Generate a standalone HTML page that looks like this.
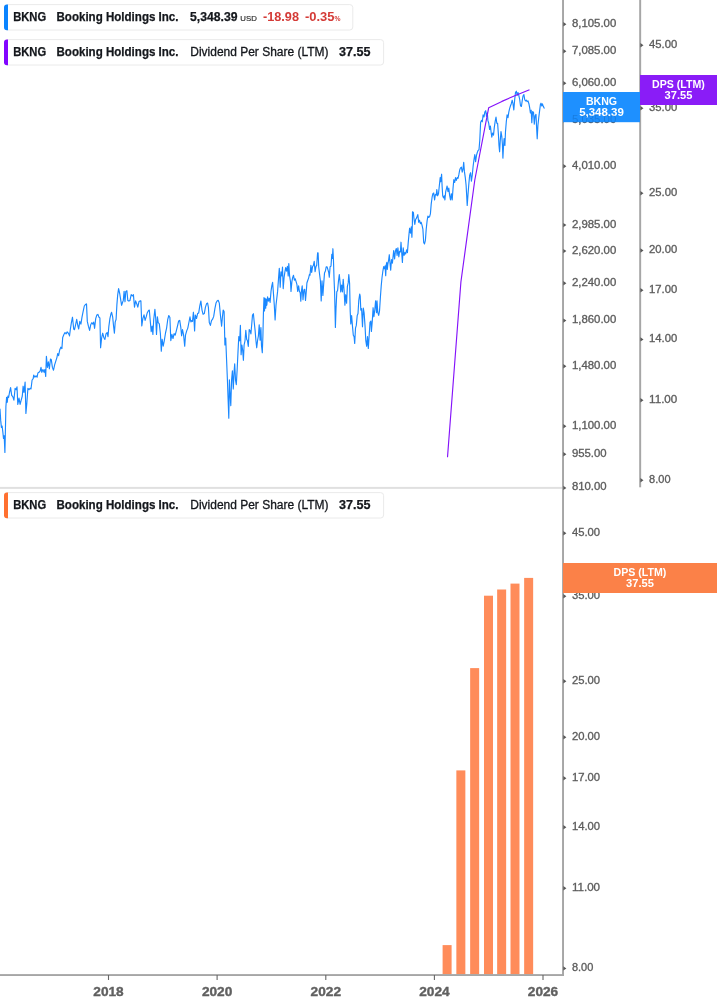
<!DOCTYPE html><html><head><meta charset="utf-8"><title>BKNG chart</title>
<style>html,body{margin:0;padding:0;background:#fff}body{width:717px;height:1005px;overflow:hidden;font-family:"Liberation Sans",sans-serif}svg{display:block}text{font-family:"Liberation Sans",sans-serif}</style></head><body>
<svg width="717" height="1005" viewBox="0 0 717 1005">
<rect width="717" height="1005" fill="#fff"/>
<rect x="0" y="486.9" width="563" height="2" fill="#e0e0e0"/>
<rect x="442.60" y="945.1" width="9" height="29.4" fill="#ff8c5a"/>
<rect x="456.35" y="770.4" width="9" height="204.1" fill="#ff8c5a"/>
<rect x="470.15" y="668.1" width="9" height="306.4" fill="#ff8c5a"/>
<rect x="484.00" y="595.7" width="9" height="378.8" fill="#ff8c5a"/>
<rect x="497.15" y="589.5" width="9" height="385.0" fill="#ff8c5a"/>
<rect x="510.50" y="583.6" width="9" height="390.9" fill="#ff8c5a"/>
<rect x="524.15" y="577.9" width="9" height="396.6" fill="#ff8c5a"/>
<path d="M0.0,409.2 L0.7,420.4 L1.4,427.4 L2.1,426.0 L2.8,431.6 L3.5,438.5 L4.2,435.7 L4.9,452.5 L5.3,435.7 L5.9,406.5 L6.6,397.4 L7.3,402.3 L7.9,396.0 L8.6,397.4 L9.5,392.5 L10.6,387.6 L11.7,395.3 L12.8,396.7 L13.9,400.2 L15.1,388.3 L16.2,389.7 L17.0,386.9 L17.8,404.4 L19.0,398.1 L20.1,404.4 L21.2,400.2 L22.3,396.0 L23.1,386.2 L24.0,392.5 L25.1,382.1 L25.9,413.4 L26.8,403.7 L27.9,388.3 L29.0,389.7 L30.1,388.3 L31.0,389.0 L32.1,380.0 L33.2,378.6 L33.7,375.1 L34.9,377.2 L36.0,375.8 L37.1,377.2 L37.9,373.0 L39.0,372.3 L40.2,370.9 L41.0,367.4 L41.8,372.3 L42.9,369.5 L44.1,372.3 L44.9,369.5 L45.7,376.5 L46.4,356.3 L47.4,367.4 L48.4,361.8 L49.4,368.8 L50.5,359.0 L51.3,359.7 L52.4,367.4 L53.5,370.2 L54.7,364.6 L55.8,361.1 L56.9,357.6 L57.7,353.5 L58.6,355.6 L59.7,350.0 L60.8,347.2 L61.9,348.6 L62.7,337.4 L63.9,334.6 L65.0,332.5 L66.1,333.9 L67.2,331.9 L68.3,333.2 L69.4,335.3 L69.5,336.0 L70.3,329.7 L71.4,322.7 L72.5,317.2 L73.7,329.0 L74.5,329.7 L75.6,324.8 L76.7,319.3 L77.8,325.5 L78.7,329.0 L79.8,321.4 L80.9,324.1 L82.0,317.2 L83.1,311.6 L84.3,306.0 L85.4,304.6 L86.5,303.9 L87.3,321.4 L88.4,326.2 L89.6,330.4 L90.7,324.8 L91.8,322.7 L92.9,324.1 L93.7,322.1 L94.6,328.3 L95.7,318.6 L96.8,315.1 L97.9,314.4 L99.0,317.2 L99.9,317.9 L100.6,347.8 L101.6,338.1 L102.7,333.2 L103.8,337.4 L104.9,339.5 L106.0,333.9 L107.1,332.5 L108.0,336.7 L108.8,326.9 L109.9,318.6 L111.0,313.7 L111.6,312.3 L112.7,317.2 L113.5,325.5 L114.4,333.2 L115.2,322.1 L116.1,319.3 L116.9,304.6 L117.7,294.9 L118.6,288.6 L119.7,293.5 L120.8,300.4 L121.6,305.3 L122.5,302.5 L123.3,300.4 L124.1,291.4 L125.0,301.8 L125.8,291.4 L126.9,290.7 L127.8,300.4 L128.9,301.1 L130.0,300.4 L130.0,300.2 L131.2,294.6 L132.3,296.0 L133.4,294.6 L134.5,307.2 L135.6,300.9 L136.7,303.7 L137.8,307.2 L139.0,301.6 L140.1,300.9 L140.9,300.9 L141.8,326.0 L142.9,318.3 L144.0,314.8 L145.1,320.4 L146.2,316.9 L147.3,312.7 L148.4,310.7 L149.3,310.0 L150.4,322.5 L151.2,331.6 L152.1,326.0 L152.9,334.4 L153.7,319.7 L154.9,309.3 L155.7,318.3 L156.5,334.4 L157.4,316.9 L158.2,322.5 L159.3,323.9 L160.4,333.7 L161.3,351.1 L162.1,339.2 L163.2,346.2 L164.3,340.6 L165.5,333.0 L166.6,328.1 L167.7,319.7 L168.8,315.5 L169.9,317.6 L170.8,340.6 L171.9,334.4 L173.0,338.5 L174.1,333.7 L175.2,335.1 L176.3,330.9 L177.5,326.0 L178.6,321.1 L179.7,320.4 L180.8,327.4 L181.6,335.8 L182.5,329.5 L183.6,335.1 L184.7,346.2 L185.5,335.1 L186.7,330.9 L187.8,328.1 L188.9,322.5 L190.0,316.9 L190.0,317.1 L190.9,322.0 L191.7,320.6 L192.5,321.3 L193.4,312.2 L193.9,318.5 L194.6,331.0 L195.3,315.0 L196.5,318.5 L197.6,313.6 L198.7,312.9 L199.8,305.9 L200.9,301.0 L202.0,310.1 L203.1,314.3 L204.3,313.6 L205.4,307.3 L206.5,303.8 L207.6,303.1 L208.4,307.3 L209.3,322.6 L210.4,325.4 L211.5,320.6 L212.6,319.2 L213.7,316.4 L214.9,308.7 L216.0,303.1 L217.1,301.0 L218.2,300.3 L219.3,303.1 L220.4,315.0 L221.6,326.1 L222.4,317.1 L223.2,310.1 L224.1,311.5 L224.9,345.0 L225.7,338.0 L226.6,360.3 L227.4,379.8 L228.0,396.6 L228.8,418.2 L229.4,379.8 L229.9,391.0 L230.8,405.6 L231.6,379.8 L232.4,370.8 L233.3,388.9 L234.1,371.5 L234.7,363.8 L235.5,379.8 L236.3,384.7 L237.2,368.7 L238.0,351.9 L238.8,336.6 L239.7,340.8 L240.4,325.4 L241.1,354.7 L241.9,345.0 L242.7,350.5 L243.4,360.3 L244.1,345.0 L245.0,340.8 L245.8,330.3 L246.7,339.4 L247.5,340.8 L248.3,346.4 L249.2,329.6 L250.0,331.0 L250.0,330.4 L250.9,333.9 L251.7,324.8 L252.5,315.1 L253.4,313.7 L254.2,322.0 L255.1,330.4 L255.9,340.2 L256.7,347.8 L257.6,340.2 L258.4,336.0 L259.2,324.8 L260.1,340.2 L260.9,327.6 L261.5,345.7 L262.3,352.7 L262.9,336.0 L263.4,313.7 L264.0,297.6 L264.5,310.9 L265.1,298.3 L265.7,308.1 L266.2,299.0 L266.8,305.3 L267.6,296.9 L268.4,301.1 L269.3,298.3 L270.1,302.5 L271.0,291.4 L271.8,285.8 L272.6,282.3 L273.5,294.1 L274.3,305.3 L275.1,319.9 L276.0,305.3 L276.8,298.3 L277.6,291.4 L278.5,278.8 L279.3,268.3 L280.2,287.2 L281.0,271.8 L281.8,276.0 L282.5,267.0 L283.2,288.6 L284.1,277.4 L284.9,271.8 L285.7,267.6 L286.6,271.1 L287.4,266.3 L288.2,276.0 L288.8,263.5 L289.6,276.0 L290.5,281.6 L291.0,291.4 L291.9,281.6 L292.7,277.4 L293.5,275.3 L294.4,280.2 L295.2,278.8 L296.1,281.6 L296.9,284.4 L297.7,291.4 L298.6,285.8 L299.4,291.4 L300.2,292.7 L300.8,301.1 L301.4,291.4 L302.2,285.8 L303.0,299.7 L303.9,290.0 L304.7,289.3 L305.5,300.4 L306.4,290.0 L306.9,283.0 L307.8,280.2 L308.6,278.1 L309.4,274.6 L310.0,273.9 L310.0,275.2 L310.9,265.4 L311.7,272.4 L312.5,266.8 L313.4,265.4 L314.2,261.3 L315.1,271.7 L315.9,266.8 L316.7,265.4 L317.6,252.9 L318.1,252.9 L318.7,266.8 L319.5,273.8 L320.4,280.8 L321.2,301.0 L322.0,280.8 L322.9,295.4 L323.7,283.6 L324.5,273.1 L325.4,271.0 L326.2,266.8 L327.1,266.8 L327.9,269.6 L328.7,272.4 L329.3,277.3 L330.1,266.8 L331.0,266.1 L331.8,254.3 L332.4,258.5 L332.9,248.7 L333.5,261.3 L334.0,278.0 L334.6,291.9 L335.4,327.5 L336.0,308.7 L336.8,291.9 L337.6,290.5 L338.5,280.8 L339.3,274.5 L340.2,283.6 L340.7,291.9 L341.6,285.0 L342.4,291.9 L343.2,279.4 L344.1,290.5 L344.9,305.2 L345.7,294.7 L346.6,303.1 L347.4,286.4 L348.2,282.9 L348.8,274.5 L349.6,283.6 L350.2,311.5 L350.8,324.0 L351.6,315.6 L352.4,325.4 L353.3,335.2 L354.1,336.6 L354.7,343.5 L355.5,328.2 L356.3,325.4 L357.2,315.6 L358.0,313.5 L358.8,300.3 L359.7,294.0 L360.2,296.1 L360.8,310.1 L361.6,308.7 L362.5,326.8 L363.3,308.0 L364.1,312.8 L365.0,325.4 L365.8,340.7 L366.7,346.3 L367.5,336.6 L368.3,348.4 L369.2,335.2 L370.0,322.6 L370.0,322.4 L370.9,321.0 L371.4,331.4 L372.3,321.0 L373.1,307.7 L373.9,316.8 L374.8,309.8 L375.6,300.8 L376.5,312.6 L377.0,300.8 L377.8,312.6 L378.7,315.4 L379.5,311.2 L380.4,297.3 L381.2,286.1 L382.0,277.7 L382.9,270.8 L383.7,266.6 L384.5,268.7 L385.1,265.9 L385.7,275.7 L386.2,265.2 L386.8,262.4 L387.3,269.4 L387.9,263.8 L388.7,259.6 L389.3,254.7 L389.8,261.0 L390.7,270.1 L391.5,259.6 L392.4,263.1 L393.2,255.4 L393.7,250.6 L394.6,258.9 L395.4,251.3 L396.3,248.5 L397.1,255.4 L397.9,247.8 L398.8,256.8 L399.6,251.3 L400.4,252.0 L401.0,242.2 L401.6,251.3 L402.4,262.4 L403.2,247.8 L404.1,255.4 L404.9,252.6 L405.7,254.0 L406.6,249.9 L407.4,252.6 L408.2,242.9 L409.1,233.1 L409.6,228.2 L410.5,233.1 L411.3,226.9 L411.9,237.3 L412.4,223.4 L412.5,211.8 L413.4,212.5 L413.9,218.1 L414.8,224.4 L415.6,219.5 L416.5,218.1 L417.3,216.0 L417.8,214.6 L418.7,222.3 L419.5,220.2 L420.4,223.7 L421.2,222.3 L422.0,225.1 L422.9,229.2 L423.7,242.5 L424.5,243.9 L425.4,240.4 L426.2,229.2 L427.1,220.9 L427.9,216.0 L428.7,217.4 L429.6,216.7 L430.4,213.9 L431.2,204.1 L432.1,197.2 L432.9,193.7 L433.7,193.0 L434.6,200.0 L435.4,194.4 L436.3,195.1 L436.8,189.5 L437.6,195.8 L438.5,193.7 L439.3,186.0 L440.2,177.6 L440.7,181.8 L441.6,174.2 L442.1,186.0 L442.7,195.8 L443.5,197.9 L444.3,195.8 L444.9,200.0 L445.7,191.6 L446.6,188.1 L447.1,186.0 L448.0,191.6 L448.8,188.1 L449.6,195.1 L450.5,200.0 L451.3,193.7 L452.2,200.0 L453.0,188.8 L453.8,179.7 L454.7,182.5 L455.5,177.6 L456.3,180.4 L457.2,177.6 L458.0,178.3 L458.8,174.9 L459.7,170.0 L460.5,167.9 L461.4,167.2 L462.2,172.1 L463.0,169.3 L463.7,162.3 L464.4,171.4 L465.3,177.6 L466.1,185.3 L466.7,195.8 L467.2,205.5 L468.0,194.4 L468.9,183.2 L469.7,174.9 L469.8,174.8 L470.6,172.7 L471.4,181.1 L472.3,174.8 L473.1,166.5 L473.9,160.2 L474.8,154.6 L475.6,161.6 L476.5,155.3 L477.3,152.5 L478.1,150.4 L479.0,149.7 L479.8,140.0 L480.6,122.5 L481.5,120.4 L482.3,121.8 L483.1,114.9 L484.0,117.0 L484.8,112.1 L485.7,110.7 L486.5,116.3 L487.3,112.8 L487.9,120.4 L488.7,123.2 L489.6,129.5 L490.4,126.0 L491.2,133.0 L491.8,137.2 L492.6,133.0 L493.5,135.1 L494.3,127.4 L495.1,121.8 L496.0,117.0 L496.8,123.2 L497.6,123.2 L498.5,135.8 L499.0,145.5 L499.6,151.8 L500.2,141.4 L501.0,131.6 L501.8,136.5 L502.4,144.1 L502.9,158.1 L503.5,146.9 L504.1,138.6 L504.9,145.5 L505.5,131.6 L506.3,121.8 L507.1,114.9 L508.0,117.6 L508.8,112.1 L509.6,108.6 L510.5,105.8 L511.3,103.7 L512.2,100.2 L513.0,103.7 L513.8,110.0 L514.7,99.5 L515.5,92.5 L516.3,91.2 L517.2,95.3 L518.0,92.5 L518.8,95.3 L519.7,99.5 L520.5,105.8 L521.4,106.5 L522.2,100.9 L523.0,96.0 L523.9,94.6 L524.7,99.5 L525.5,100.9 L526.4,100.2 L527.2,101.6 L528.0,100.9 L528.9,103.7 L529.7,107.9 L530.4,113.0 L531.2,110.2 L531.8,122.7 L532.6,111.6 L533.5,112.3 L534.3,124.1 L535.1,115.8 L536.0,114.4 L536.5,125.5 L537.2,138.8 L537.9,125.5 L538.8,117.2 L539.6,110.9 L540.4,104.6 L541.0,103.2 L541.8,106.0 L542.4,103.9 L543.2,106.0 L544.1,108.1" fill="none" stroke="#1a88ff" stroke-width="1.15" stroke-linejoin="round" stroke-linecap="round"/>
<path d="M447.5,457.2 L460.9,282.0 L474.8,180.0 L488.7,107.7 L501.9,101.4 L515.4,95.5 L529.5,89.8" fill="none" stroke="#8412fa" stroke-width="1.15" stroke-linejoin="round"/>
<rect x="562.05" y="0" width="1.95" height="976" fill="#a6a6a6"/>
<rect x="639.2" y="0" width="1.95" height="487.3" fill="#a6a6a6"/>
<rect x="0" y="974.1" width="563.9" height="1.9" fill="#a6a6a6"/>
<rect x="107.95" y="975" width="1.1" height="5" fill="#666"/>
<rect x="216.55" y="975" width="1.1" height="5" fill="#666"/>
<rect x="325.25" y="975" width="1.1" height="5" fill="#666"/>
<rect x="433.85" y="975" width="1.1" height="5" fill="#666"/>
<rect x="542.45" y="975" width="1.1" height="5" fill="#666"/>
<text x="108.5" y="996.3" font-size="12.3" font-weight="700" fill="#606060" stroke="#606060" stroke-width="0.35" text-anchor="middle" textLength="30.4" lengthAdjust="spacingAndGlyphs">2018</text>
<text x="217.1" y="996.3" font-size="12.3" font-weight="700" fill="#606060" stroke="#606060" stroke-width="0.35" text-anchor="middle" textLength="30.4" lengthAdjust="spacingAndGlyphs">2020</text>
<text x="325.8" y="996.3" font-size="12.3" font-weight="700" fill="#606060" stroke="#606060" stroke-width="0.35" text-anchor="middle" textLength="30.4" lengthAdjust="spacingAndGlyphs">2022</text>
<text x="434.4" y="996.3" font-size="12.3" font-weight="700" fill="#606060" stroke="#606060" stroke-width="0.35" text-anchor="middle" textLength="30.4" lengthAdjust="spacingAndGlyphs">2024</text>
<text x="543.0" y="996.3" font-size="12.3" font-weight="700" fill="#606060" stroke="#606060" stroke-width="0.35" text-anchor="middle" textLength="30.4" lengthAdjust="spacingAndGlyphs">2026</text>
<path d="M563.3,22.1 L566.4,24.3 L563.3,26.5Z" fill="#585858"/>
<text x="571.9" y="26.8" font-size="10.2" fill="#5c5c5c" stroke="#5c5c5c" stroke-width="0.3" textLength="44.4" lengthAdjust="spacingAndGlyphs">8,105.00</text>
<path d="M563.3,49.0 L566.4,51.2 L563.3,53.400000000000006Z" fill="#585858"/>
<text x="571.9" y="53.6" font-size="10.2" fill="#5c5c5c" stroke="#5c5c5c" stroke-width="0.3" textLength="44.4" lengthAdjust="spacingAndGlyphs">7,085.00</text>
<path d="M563.3,81.0 L566.4,83.2 L563.3,85.4Z" fill="#585858"/>
<text x="571.9" y="85.7" font-size="10.2" fill="#5c5c5c" stroke="#5c5c5c" stroke-width="0.3" textLength="44.4" lengthAdjust="spacingAndGlyphs">6,060.00</text>
<path d="M563.3,118.0 L566.4,120.2 L563.3,122.4Z" fill="#585858"/>
<text x="571.9" y="122.7" font-size="10.2" fill="#5c5c5c" stroke="#5c5c5c" stroke-width="0.3" textLength="44.4" lengthAdjust="spacingAndGlyphs">5,035.00</text>
<path d="M563.3,164.0 L566.4,166.2 L563.3,168.39999999999998Z" fill="#585858"/>
<text x="571.9" y="168.7" font-size="10.2" fill="#5c5c5c" stroke="#5c5c5c" stroke-width="0.3" textLength="44.4" lengthAdjust="spacingAndGlyphs">4,010.00</text>
<path d="M563.3,222.9 L566.4,225.1 L563.3,227.29999999999998Z" fill="#585858"/>
<text x="571.9" y="227.6" font-size="10.2" fill="#5c5c5c" stroke="#5c5c5c" stroke-width="0.3" textLength="44.4" lengthAdjust="spacingAndGlyphs">2,985.00</text>
<path d="M563.3,248.9 L566.4,251.1 L563.3,253.29999999999998Z" fill="#585858"/>
<text x="571.9" y="253.6" font-size="10.2" fill="#5c5c5c" stroke="#5c5c5c" stroke-width="0.3" textLength="44.4" lengthAdjust="spacingAndGlyphs">2,620.00</text>
<path d="M563.3,281.1 L566.4,283.3 L563.3,285.5Z" fill="#585858"/>
<text x="571.9" y="285.8" font-size="10.2" fill="#5c5c5c" stroke="#5c5c5c" stroke-width="0.3" textLength="44.4" lengthAdjust="spacingAndGlyphs">2,240.00</text>
<path d="M563.3,318.4 L566.4,320.59999999999997 L563.3,322.79999999999995Z" fill="#585858"/>
<text x="571.9" y="323.0" font-size="10.2" fill="#5c5c5c" stroke="#5c5c5c" stroke-width="0.3" textLength="44.4" lengthAdjust="spacingAndGlyphs">1,860.00</text>
<path d="M563.3,364.1 L566.4,366.3 L563.3,368.5Z" fill="#585858"/>
<text x="571.9" y="368.8" font-size="10.2" fill="#5c5c5c" stroke="#5c5c5c" stroke-width="0.3" textLength="44.4" lengthAdjust="spacingAndGlyphs">1,480.00</text>
<path d="M563.3,424.1 L566.4,426.3 L563.3,428.5Z" fill="#585858"/>
<text x="571.9" y="428.8" font-size="10.2" fill="#5c5c5c" stroke="#5c5c5c" stroke-width="0.3" textLength="44.4" lengthAdjust="spacingAndGlyphs">1,100.00</text>
<path d="M563.3,452.1 L566.4,454.3 L563.3,456.5Z" fill="#585858"/>
<text x="571.9" y="456.8" font-size="10.2" fill="#5c5c5c" stroke="#5c5c5c" stroke-width="0.3" textLength="34.8" lengthAdjust="spacingAndGlyphs">955.00</text>
<path d="M563.3,485.7 L566.4,487.9 L563.3,490.09999999999997Z" fill="#585858"/>
<text x="571.9" y="489.6" font-size="10.2" fill="#5c5c5c" stroke="#5c5c5c" stroke-width="0.3" textLength="34.8" lengthAdjust="spacingAndGlyphs">810.00</text>
<path d="M640.4,43.0 L643.5,45.2 L640.4,47.400000000000006Z" fill="#585858"/>
<text x="649.1" y="47.6" font-size="10.2" fill="#5c5c5c" stroke="#5c5c5c" stroke-width="0.3" textLength="28.2" lengthAdjust="spacingAndGlyphs">45.00</text>
<path d="M640.4,106.0 L643.5,108.2 L640.4,110.4Z" fill="#585858"/>
<text x="649.1" y="110.7" font-size="10.2" fill="#5c5c5c" stroke="#5c5c5c" stroke-width="0.3" textLength="28.2" lengthAdjust="spacingAndGlyphs">35.00</text>
<path d="M640.4,191.0 L643.5,193.2 L640.4,195.39999999999998Z" fill="#585858"/>
<text x="649.1" y="195.7" font-size="10.2" fill="#5c5c5c" stroke="#5c5c5c" stroke-width="0.3" textLength="28.2" lengthAdjust="spacingAndGlyphs">25.00</text>
<path d="M640.4,248.3 L643.5,250.5 L640.4,252.7Z" fill="#585858"/>
<text x="649.1" y="253.0" font-size="10.2" fill="#5c5c5c" stroke="#5c5c5c" stroke-width="0.3" textLength="28.2" lengthAdjust="spacingAndGlyphs">20.00</text>
<path d="M640.4,288.0 L643.5,290.2 L640.4,292.4Z" fill="#585858"/>
<text x="649.1" y="292.6" font-size="10.2" fill="#5c5c5c" stroke="#5c5c5c" stroke-width="0.3" textLength="28.2" lengthAdjust="spacingAndGlyphs">17.00</text>
<path d="M640.4,337.2 L643.5,339.4 L640.4,341.59999999999997Z" fill="#585858"/>
<text x="649.1" y="341.8" font-size="10.2" fill="#5c5c5c" stroke="#5c5c5c" stroke-width="0.3" textLength="28.2" lengthAdjust="spacingAndGlyphs">14.00</text>
<path d="M640.4,398.1 L643.5,400.3 L640.4,402.5Z" fill="#585858"/>
<text x="649.1" y="402.8" font-size="10.2" fill="#5c5c5c" stroke="#5c5c5c" stroke-width="0.3" textLength="28.2" lengthAdjust="spacingAndGlyphs">11.00</text>
<path d="M640.4,478.1 L643.5,480.3 L640.4,482.5Z" fill="#585858"/>
<text x="649.1" y="482.8" font-size="10.2" fill="#5c5c5c" stroke="#5c5c5c" stroke-width="0.3" textLength="21.4" lengthAdjust="spacingAndGlyphs">8.00</text>
<path d="M563.3,531.0 L566.4,533.2 L563.3,535.4000000000001Z" fill="#585858"/>
<text x="571.9" y="535.6" font-size="10.2" fill="#5c5c5c" stroke="#5c5c5c" stroke-width="0.3" textLength="28.2" lengthAdjust="spacingAndGlyphs">45.00</text>
<path d="M563.3,594.0 L566.4,596.2 L563.3,598.4000000000001Z" fill="#585858"/>
<text x="571.9" y="598.6" font-size="10.2" fill="#5c5c5c" stroke="#5c5c5c" stroke-width="0.3" textLength="28.2" lengthAdjust="spacingAndGlyphs">35.00</text>
<path d="M563.3,679.0 L566.4,681.2 L563.3,683.4000000000001Z" fill="#585858"/>
<text x="571.9" y="683.6" font-size="10.2" fill="#5c5c5c" stroke="#5c5c5c" stroke-width="0.3" textLength="28.2" lengthAdjust="spacingAndGlyphs">25.00</text>
<path d="M563.3,735.0 L566.4,737.2 L563.3,739.4000000000001Z" fill="#585858"/>
<text x="571.9" y="739.6" font-size="10.2" fill="#5c5c5c" stroke="#5c5c5c" stroke-width="0.3" textLength="28.2" lengthAdjust="spacingAndGlyphs">20.00</text>
<path d="M563.3,776.0 L566.4,778.2 L563.3,780.4000000000001Z" fill="#585858"/>
<text x="571.9" y="780.6" font-size="10.2" fill="#5c5c5c" stroke="#5c5c5c" stroke-width="0.3" textLength="28.2" lengthAdjust="spacingAndGlyphs">17.00</text>
<path d="M563.3,825.0 L566.4,827.2 L563.3,829.4000000000001Z" fill="#585858"/>
<text x="571.9" y="829.6" font-size="10.2" fill="#5c5c5c" stroke="#5c5c5c" stroke-width="0.3" textLength="28.2" lengthAdjust="spacingAndGlyphs">14.00</text>
<path d="M563.3,886.0 L566.4,888.2 L563.3,890.4000000000001Z" fill="#585858"/>
<text x="571.9" y="890.6" font-size="10.2" fill="#5c5c5c" stroke="#5c5c5c" stroke-width="0.3" textLength="28.2" lengthAdjust="spacingAndGlyphs">11.00</text>
<path d="M563.3,966.2 L566.4,968.4000000000001 L563.3,970.6000000000001Z" fill="#585858"/>
<text x="571.9" y="970.9" font-size="10.2" fill="#5c5c5c" stroke="#5c5c5c" stroke-width="0.3" textLength="21.4" lengthAdjust="spacingAndGlyphs">8.00</text>
<rect x="563" y="92" width="77" height="30.2" fill="#1e90ff"/>
<text x="601.5" y="105" font-size="10.6" font-weight="700" fill="#fff" text-anchor="middle">BKNG</text>
<text x="601.5" y="116.3" font-size="10.6" font-weight="700" fill="#fff" text-anchor="middle" textLength="44.7" lengthAdjust="spacingAndGlyphs">5,348.39</text>
<text x="571.9" y="122.65" font-size="10.2" fill="#0d4f96" opacity="0.3" textLength="44.4" lengthAdjust="spacingAndGlyphs">5,035.00</text>
<rect x="640" y="75" width="77" height="30" fill="#8a1cf7"/>
<text x="678.5" y="88" font-size="10.6" font-weight="700" fill="#fff" text-anchor="middle">DPS (LTM)</text>
<text x="678.5" y="99.3" font-size="10.6" font-weight="700" fill="#fff" text-anchor="middle" textLength="27.8" lengthAdjust="spacingAndGlyphs">37.55</text>
<rect x="563" y="563" width="154" height="30" fill="#fb8148"/>
<text x="640" y="576" font-size="10.6" font-weight="700" fill="#fff" text-anchor="middle">DPS (LTM)</text>
<text x="640" y="587.3" font-size="10.6" font-weight="700" fill="#fff" text-anchor="middle" textLength="27.8" lengthAdjust="spacingAndGlyphs">37.55</text>
<rect x="4.5" y="4.6" width="348.3" height="25.4" rx="3" fill="#fff" stroke="#eaeaea" stroke-width="1"/>
<path d="M8,4.5 h-1 a3,3 0 0 0 -3,3 v19.8 a3,3 0 0 0 3,3 h1 Z" fill="#0a84ff"/>
<text x="13.2" y="21" font-size="12" font-weight="700" fill="#14171c" stroke="#14171c" stroke-width="0.25" textLength="33.0" lengthAdjust="spacingAndGlyphs">BKNG</text>
<text x="56.5" y="21" font-size="12" font-weight="700" fill="#14171c" stroke="#14171c" stroke-width="0.25" textLength="122" lengthAdjust="spacingAndGlyphs">Booking Holdings Inc.</text>
<text x="190" y="21" font-size="12" font-weight="700" fill="#14171c" stroke="#14171c" stroke-width="0.25" textLength="47.5" lengthAdjust="spacingAndGlyphs">5,348.39</text>
<text x="240.3" y="21" font-size="7.5" font-weight="400" fill="#333" stroke="#333" stroke-width="0.2" textLength="16.5" lengthAdjust="spacingAndGlyphs">USD</text>
<text x="263" y="21" font-size="12" font-weight="700" fill="#d43b37" stroke="#d43b37" stroke-width="0" textLength="36" lengthAdjust="spacingAndGlyphs">-18.98</text>
<text x="305" y="21" font-size="12" font-weight="700" fill="#d43b37" stroke="#d43b37" stroke-width="0" textLength="29.5" lengthAdjust="spacingAndGlyphs">-0.35</text>
<text x="334.6" y="21" font-size="7.5" font-weight="700" fill="#d43b37" stroke="#d43b37" stroke-width="0" textLength="6" lengthAdjust="spacingAndGlyphs">%</text>
<rect x="4.5" y="39.6" width="379.1" height="25.4" rx="3" fill="#fff" stroke="#eaeaea" stroke-width="1"/>
<path d="M8,39.5 h-1 a3,3 0 0 0 -3,3 v19.8 a3,3 0 0 0 3,3 h1 Z" fill="#8205ff"/>
<text x="13.2" y="56" font-size="12" font-weight="700" fill="#14171c" stroke="#14171c" stroke-width="0.25" textLength="33.0" lengthAdjust="spacingAndGlyphs">BKNG</text>
<text x="56.5" y="56" font-size="12" font-weight="700" fill="#14171c" stroke="#14171c" stroke-width="0.25" textLength="122" lengthAdjust="spacingAndGlyphs">Booking Holdings Inc.</text>
<text x="190.3" y="56" font-size="12" font-weight="400" fill="#14171c" stroke="#14171c" stroke-width="0.3" textLength="138.2" lengthAdjust="spacingAndGlyphs">Dividend Per Share (LTM)</text>
<text x="339.1" y="56" font-size="12" font-weight="700" fill="#14171c" stroke="#14171c" stroke-width="0.25" textLength="31.4" lengthAdjust="spacingAndGlyphs">37.55</text>
<rect x="4.5" y="492.6" width="379.1" height="25.4" rx="3" fill="#fff" stroke="#eaeaea" stroke-width="1"/>
<path d="M8,492.5 h-1 a3,3 0 0 0 -3,3 v19.8 a3,3 0 0 0 3,3 h1 Z" fill="#ff7030"/>
<text x="13.2" y="509" font-size="12" font-weight="700" fill="#14171c" stroke="#14171c" stroke-width="0.25" textLength="33.0" lengthAdjust="spacingAndGlyphs">BKNG</text>
<text x="56.5" y="509" font-size="12" font-weight="700" fill="#14171c" stroke="#14171c" stroke-width="0.25" textLength="122" lengthAdjust="spacingAndGlyphs">Booking Holdings Inc.</text>
<text x="190.3" y="509" font-size="12" font-weight="400" fill="#14171c" stroke="#14171c" stroke-width="0.3" textLength="138.2" lengthAdjust="spacingAndGlyphs">Dividend Per Share (LTM)</text>
<text x="339.1" y="509" font-size="12" font-weight="700" fill="#14171c" stroke="#14171c" stroke-width="0.25" textLength="31.4" lengthAdjust="spacingAndGlyphs">37.55</text>
</svg></body></html>
